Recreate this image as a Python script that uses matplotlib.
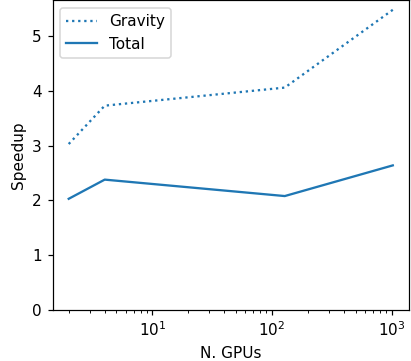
import matplotlib
matplotlib.use("Agg")
import matplotlib.pyplot as plt

n_gpus = [2, 4, 128, 1024]
gravity = [3.03, 3.73, 4.06, 5.48]
total = [2.03, 2.38, 2.08, 2.64]

dpi = 110
fig = plt.figure(figsize=(411/dpi, 361/dpi), dpi=dpi)
ax = fig.add_axes([52.5/411, 1-310/361, (409-52.5)/411, 310/361 - 0.001])
ax.plot(n_gpus, gravity, ':', color='tab:blue', label='Gravity')
ax.plot(n_gpus, total, '-', color='tab:blue', label='Total')
ax.set_xscale('log')
ax.set_ylim(bottom=0)
ax.set_xlabel('N. GPUs')
ax.set_ylabel('Speedup')
ax.legend(loc='upper left')
fig.savefig('out.png', dpi=dpi)
